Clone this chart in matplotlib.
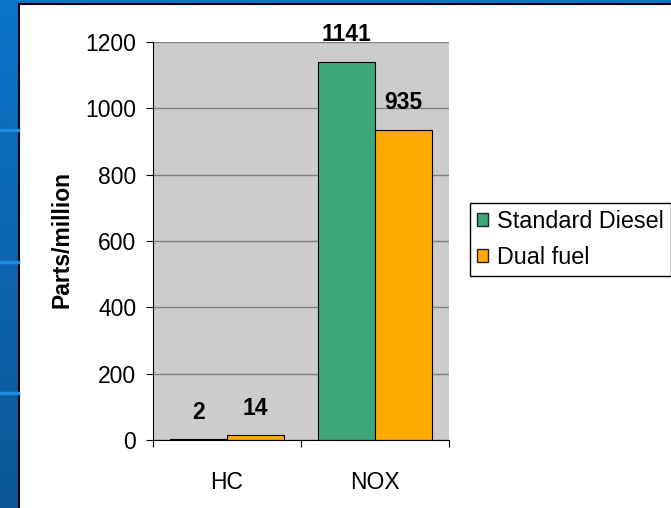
import numpy as np
import matplotlib
matplotlib.use('Agg')
import matplotlib.pyplot as plt
from matplotlib.patches import Rectangle, Patch
from matplotlib.colors import LinearSegmentedColormap

categorias = ['HC', 'NOX']
standard_diesel = [2, 1141]
dual_fuel = [14, 935]
series = ['Standard Diesel', 'Dual fuel']
colores = ['#3DA67A', '#FFAA00']
y_ticks = [0, 200, 400, 600, 800, 1000, 1200]

plt.rcParams['font.family'] = ['Liberation Sans', 'DejaVu Sans']

W, H = 671, 508
fig = plt.figure(figsize=(W / 100, H / 100), dpi=100)

# fondo azul de la diapositiva con el panel blanco encima
bg = fig.add_axes([0, 0, 1, 1])
bg.set_xlim(0, W)
bg.set_ylim(H, 0)
bg.axis('off')
grad = np.linspace(0, 1, 256).reshape(-1, 1)
azul = LinearSegmentedColormap.from_list('azul', ['#0B75C9', '#0B5796'])
bg.imshow(grad, cmap=azul, extent=[0, W, H, 0], aspect='auto')
for yy in [130, 262, 393]:
    bg.plot([0, 18], [yy, yy], color='#1E8AE0', lw=2.5)
bg.add_patch(Rectangle((19, 4), W, H, facecolor='white', edgecolor='black', lw=1.5))

ax = fig.add_axes([153 / W, 1 - 440 / H, 296 / W, 398 / H])
x = np.arange(len(categorias))
w = 0.383
b1 = ax.bar(x - w / 2, standard_diesel, w, color=colores[0], edgecolor='black', lw=0.8)
b2 = ax.bar(x + w / 2, dual_fuel, w, color=colores[1], edgecolor='black', lw=0.8)

for barras, valores in [(b1, standard_diesel), (b2, dual_fuel)]:
    for b, v in zip(barras, valores):
        ax.annotate(str(v), (b.get_x() + b.get_width() / 2, v), xytext=(0, 19.5),
                    textcoords='offset points', ha='center', va='center',
                    fontweight='bold', fontsize=16.5)

ax.set_facecolor('#CCCCCC')
ax.set_xlim(-0.5, 1.5)
ax.set_ylim(0, 1200)
ax.set_yticks(y_ticks)
ax.yaxis.grid(True, color='#7F7F7F', lw=1)
ax.set_axisbelow(True)
ax.set_xticks([-0.5, 0.5, 1.5])
ax.set_xticklabels([])
ax.set_xticks(x, minor=True)
ax.set_xticklabels(categorias, minor=True)
ax.tick_params(axis='x', which='minor', length=0, pad=22, labelsize=16.5)
ax.tick_params(axis='x', which='major', length=5, direction='out')
ax.tick_params(axis='y', length=5, pad=7, labelsize=16.5)
ax.spines['top'].set_visible(False)
ax.spines['right'].set_visible(False)

fig.text(62 / W, 1 - 240 / H, 'Parts/million', rotation=90, ha='center', va='center',
         fontweight='bold', fontsize=16.5)

handles = [Patch(facecolor=c, edgecolor='#222222', lw=1) for c in colores]
leg = fig.legend(handles, series, loc='upper left', bbox_to_anchor=(470 / W, 1 - 203 / H),
                 fancybox=False, framealpha=1, edgecolor='black', fontsize=16.8,
                 handlelength=0.45, handleheight=0.45, handletextpad=0.4,
                 borderpad=0.3, labelspacing=0.55, borderaxespad=0)
leg.get_frame().set_linewidth(1.0)

fig.savefig('out.png', dpi=100)
